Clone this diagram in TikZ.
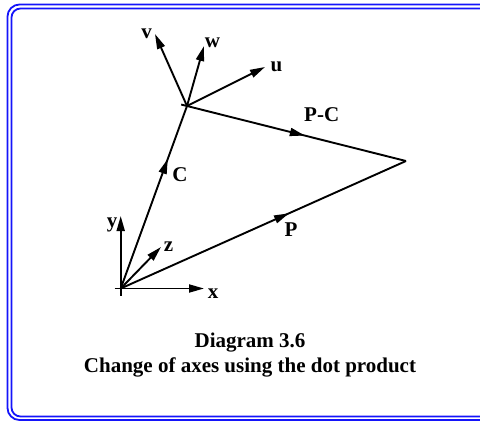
\documentclass[tikz,border=0pt]{standalone}
\usepackage{fontspec}
\setmainfont{Liberation Serif}
\usepackage{tikz}
\usetikzlibrary{
arrows.meta,
calc,
decorations.markings
}
\definecolor{dgblue}{RGB}{20,20,250}
\definecolor{dgink}{RGB}{0,0,0}

\begin{document}
\begin{tikzpicture}[x=1pt, y=-1pt,
  vec/.style={dgink, line width=1.9pt, -{Triangle[length=15pt, width=8pt]}},
  seg/.style={dgink, line width=1.9pt},
  midvec/.style={seg, postaction={decorate}, decoration={markings,
    mark=at position #1 with {\arrow{Triangle[length=15pt, width=8pt]}}}},
  lbl/.style={font=\fontsize{21}{25}\selectfont\bfseries, inner sep=0pt}]
  \useasboundingbox (0,0) rectangle (480,421);
  % Double frame
  \draw[dgblue, line width=1.8pt, rounded corners=12pt] (7.5,4.5) rectangle (495,420);
  \draw[dgblue, line width=1.8pt, rounded corners=9pt] (11.5,8.5) rectangle (495,416.5);
  % Points
  \coordinate (O) at (120.7,288.5);
  \coordinate (C) at (187,106);
  \coordinate (P) at (406,161);
  \coordinate (xtip) at (204,288.5);
  \coordinate (ytip) at (120.7,216);
  \coordinate (ztip) at (161,247);
  \coordinate (utip) at (265,67);
  \coordinate (vtip) at (155,34);
  \coordinate (wtip) at (204,46);
  % Old axes
  \draw[vec] ($(O)!-6pt!(xtip)$) -- (xtip);
  \draw[vec] ($(O)!-7pt!(ytip)$) -- (ytip);
  \draw[vec] (O) -- (ztip);
  % Vectors C, P and P-C
  \draw[midvec=0.71] (O) -- (C);
  \draw[midvec=0.59] (O) -- (P);
  \draw[midvec=0.55] ($(C)!-6pt!(P)$) -- (P);
  % New axes
  \draw[vec] (C) -- (utip);
  \draw[vec] (C) -- (vtip);
  \draw[vec] (C) -- (wtip);
  % Labels
  \node[lbl] (xl) at (213,294) {x};
  \node[lbl] (yl) at (112,225) {y};
  \node[lbl] (zl) at (168.5,247) {z};
  \node[lbl] (ul) at (276.5,66.5) {u};
  \node[lbl] (vl) at (146.5,34) {v};
  \node[lbl] (wl) at (212.5,42.5) {w};
  \node[lbl] (Cl) at (180,175) {C};
  \node[lbl] (Pl) at (291,230) {P};
  \node[lbl] (PCl) at (321.7,114.3) {P-C};
  % Caption
  \node[lbl, align=center] (cap) at (250,355.5) {Diagram 3.6\\Change of axes using the dot product};
\end{tikzpicture}
\end{document}
